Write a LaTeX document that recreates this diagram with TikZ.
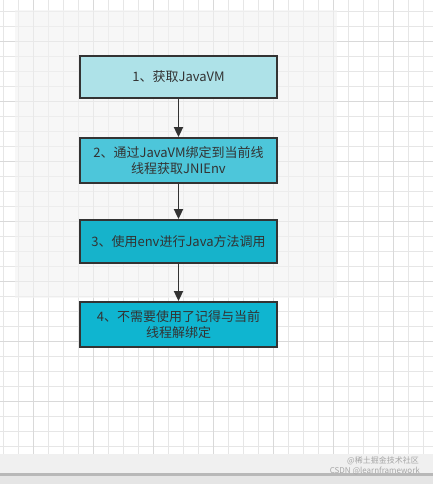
\documentclass[tikz,border=0pt]{standalone}
\usepackage{fontspec}
\setmainfont{Noto Sans CJK SC}
\usetikzlibrary{positioning, arrows.meta}
\definecolor{Dark}{HTML}{333333}
\definecolor{GridLine}{HTML}{E6E6E6}
\definecolor{GridMajor}{HTML}{D9D9D9}
\definecolor{Panel}{HTML}{F2F2F2}
\definecolor{StepOne}{HTML}{AEE2E8}
\definecolor{StepTwo}{HTML}{4DC6DA}
\definecolor{StepThree}{HTML}{16B3CB}
\definecolor{StepFour}{HTML}{0FB5D0}
\tikzset{
    stepbox/.style={rectangle, draw=Dark, line width=1.8pt, text=Dark, align=center,
        minimum width=197pt, minimum height=43pt, inner sep=2pt, font=\fontsize{13}{16}\selectfont},
    arrow/.style={-{Triangle[length=10pt, width=9pt]}, line width=1.8pt, color=Dark},
    mark text/.style={font=\fontsize{8}{9}\selectfont, text=black!35, inner sep=1pt},
}
\begin{document}
\begin{tikzpicture}[x=1pt, y=-1pt]
    \useasboundingbox (0,0) rectangle (433,484);
    % Raster
    \fill[white] (0,0) rectangle (433,454);
    \foreach \k in {0,...,28} {
        \draw[GridLine, line width=0.6pt] (3+15*\k, 0) -- (3+15*\k, 454);
    }
    \foreach \k in {0,...,29} {
        \draw[GridLine, line width=0.6pt] (0, 11.7+15*\k) -- (433, 11.7+15*\k);
    }
    \foreach \k in {0,...,7} {
        \draw[GridMajor, line width=0.8pt] (33+60*\k, 0) -- (33+60*\k, 454);
        \draw[GridMajor, line width=0.8pt] (0, 41.7+60*\k) -- (433, 41.7+60*\k);
    }
    % Hintergrund
    \fill[Panel, opacity=0.6] (15,10) rectangle (337,298);

    % Schritte
    \node[stepbox, fill=StepOne, minimum height=42pt] (get) at (178.5, 77) {1、获取JavaVM};
    \node[stepbox, fill=StepTwo, minimum height=45pt] (attach) at (178.5, 160.5) {2、通过JavaVM绑定到当前线\\线程获取JNIEnv};
    \node[stepbox, fill=StepThree] (call) at (178.5, 241.5) {3、使用env进行Java方法调用};
    \node[stepbox, fill=StepFour, minimum height=45pt] (detach) at (178.5, 324.5) {4、不需要使用了记得与当前\\线程解绑定};

    \draw[arrow] (get) -- (attach);
    \draw[arrow] (attach) -- (call);
    \draw[arrow] (call) -- (detach);

    % Fusszeile
    \fill[black!6] (0,454) rectangle (433,473);
    \fill[black!28] (0,473) rectangle (433,476);
    \fill[black!10] (0,476) rectangle (433,484);
    \node[mark text, anchor=east] (markone) at (420, 461) {@稀土掘金技术社区};
    \node[mark text, anchor=east] (marktwo) at (421, 471) {CSDN @learnframework};
\end{tikzpicture}
\end{document}
